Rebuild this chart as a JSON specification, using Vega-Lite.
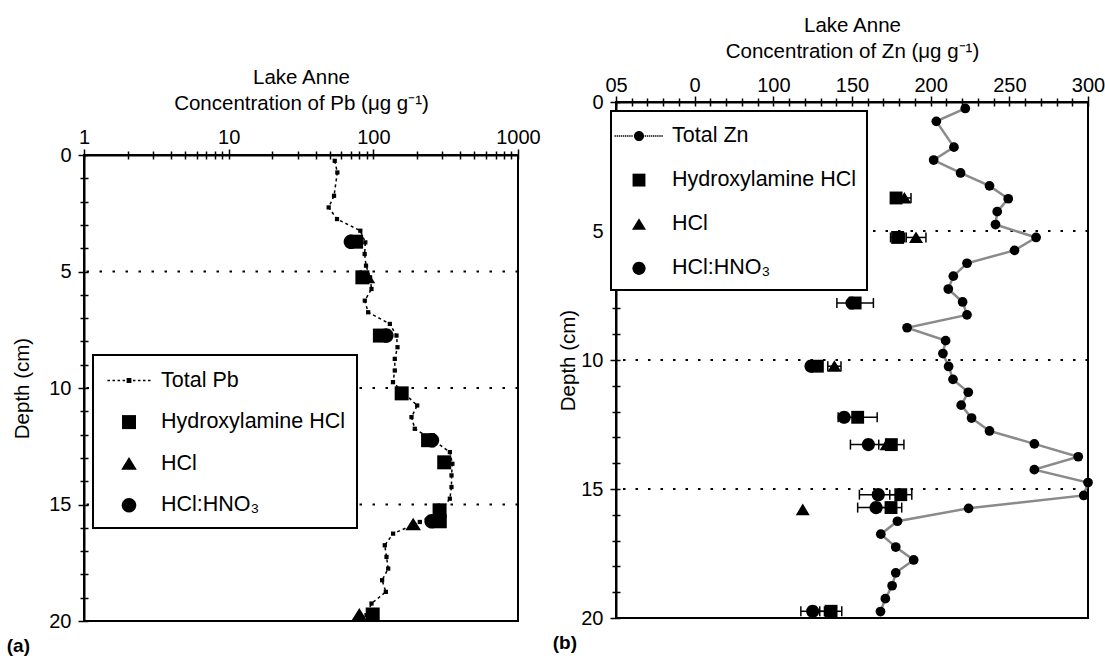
{
  "$schema": "https://vega.github.io/schema/vega-lite/v6.json",
  "padding": {"left": 5, "top": 5, "right": 5, "bottom": 5},
  "background": "white",
  "config": {
    "view": {"stroke": null},
    "font": "Liberation Sans",
    "axis": {
      "grid": false, "domainColor": "black", "domainWidth": 2, "tickColor": "black", "tickWidth": 1.5, "tickSize": 6,
      "labelColor": "black", "labelFont": "Liberation Sans", "labelFontSize": 20, "labelOverlap": false, "labelFlush": false,
      "titleColor": "black", "titleFont": "Liberation Sans", "titleFontSize": 20.5, "titleFontWeight": "normal", "titleLineHeight": 25.5
    },
    "legend": {
      "title": null, "fillColor": "white", "strokeColor": "black", "strokeWidth": 2,
      "labelFont": "Liberation Sans", "labelFontSize": 21.5, "labelColor": "black", "labelLimit": 400,
      "symbolFillColor": "black", "symbolStrokeWidth": 0, "symbolOpacity": 1, "symbolSize": 784
    },
    "title": {"font": "Liberation Sans", "color": "black"}
  },
  "datasets": {
    "refs": [{"d": 5}, {"d": 10}, {"d": 15}],
    "pbTotal": [
      {"d": 0.25, "v": 54.1}, {"d": 0.75, "v": 56.4}, {"d": 1.75, "v": 53.5}, {"d": 2.25, "v": 49.1}, {"d": 2.75, "v": 56.1},
      {"d": 3.25, "v": 81.3}, {"d": 3.75, "v": 88}, {"d": 4.25, "v": 87.1}, {"d": 4.75, "v": 89}, {"d": 5.25, "v": 95},
      {"d": 5.75, "v": 97.1}, {"d": 6.25, "v": 87.3}, {"d": 6.75, "v": 92.1}, {"d": 7.25, "v": 130}, {"d": 7.75, "v": 144.6},
      {"d": 8.25, "v": 146.9}, {"d": 8.75, "v": 140.7}, {"d": 9.25, "v": 140.7}, {"d": 9.75, "v": 136.7}, {"d": 10.25, "v": 165},
      {"d": 10.75, "v": 201}, {"d": 11.25, "v": 183.6}, {"d": 11.75, "v": 193.4}, {"d": 12.25, "v": 260}, {"d": 12.75, "v": 338},
      {"d": 13.25, "v": 352}, {"d": 13.75, "v": 347}, {"d": 14.25, "v": 347}, {"d": 14.75, "v": 338}, {"d": 15.25, "v": 296},
      {"d": 15.75, "v": 209.5}, {"d": 16.25, "v": 137}, {"d": 16.75, "v": 120}, {"d": 17.25, "v": 123.3}, {"d": 17.75, "v": 126.7},
      {"d": 18.25, "v": 115}, {"d": 18.75, "v": 122}, {"d": 19.25, "v": 97.1}, {"d": 19.75, "v": 89.7}
    ],
    "pbExt": [
      {"d": 3.72, "v": 76, "series": "Hydroxylamine HCl"}, {"d": 5.25, "v": 84, "series": "Hydroxylamine HCl"},
      {"d": 7.75, "v": 111, "series": "Hydroxylamine HCl"}, {"d": 10.23, "v": 157, "series": "Hydroxylamine HCl"},
      {"d": 12.24, "v": 239, "series": "Hydroxylamine HCl"}, {"d": 13.19, "v": 309, "series": "Hydroxylamine HCl"},
      {"d": 15.25, "v": 287, "series": "Hydroxylamine HCl"}, {"d": 15.72, "v": 288, "series": "Hydroxylamine HCl"},
      {"d": 19.72, "v": 99, "series": "Hydroxylamine HCl"},
      {"d": 5.25, "v": 91, "series": "HCl"}, {"d": 15.85, "v": 188.5, "series": "HCl"}, {"d": 19.72, "v": 80, "series": "HCl"},
      {"d": 3.72, "v": 70, "series": "HCl:HNO₃"}, {"d": 7.75, "v": 123, "series": "HCl:HNO₃"},
      {"d": 12.24, "v": 254, "series": "HCl:HNO₃"}, {"d": 15.72, "v": 253, "series": "HCl:HNO₃"}
    ],
    "znTotal": [
      {"d": 0.25, "v": 222}, {"d": 0.75, "v": 203.6}, {"d": 1.75, "v": 214.8}, {"d": 2.25, "v": 201.9}, {"d": 2.75, "v": 219},
      {"d": 3.25, "v": 237.4}, {"d": 3.75, "v": 249.3}, {"d": 4.25, "v": 242.3}, {"d": 4.75, "v": 241.2}, {"d": 5.25, "v": 267},
      {"d": 5.75, "v": 253.3}, {"d": 6.25, "v": 223.1}, {"d": 6.75, "v": 214.4}, {"d": 7.25, "v": 211.2}, {"d": 7.75, "v": 220.3},
      {"d": 8.25, "v": 223.1}, {"d": 8.75, "v": 185}, {"d": 9.25, "v": 209.5}, {"d": 9.75, "v": 207.8}, {"d": 10.25, "v": 211.4},
      {"d": 10.75, "v": 214.2}, {"d": 11.25, "v": 223.9}, {"d": 11.75, "v": 219.4}, {"d": 12.25, "v": 226}, {"d": 12.75, "v": 237.4},
      {"d": 13.25, "v": 265.9}, {"d": 13.75, "v": 293.8}, {"d": 14.25, "v": 265.9}, {"d": 14.75, "v": 300}, {"d": 15.25, "v": 297.3},
      {"d": 15.75, "v": 224.1}, {"d": 16.25, "v": 178.9}, {"d": 16.75, "v": 168.3}, {"d": 17.25, "v": 177.8}, {"d": 17.75, "v": 189.2},
      {"d": 18.25, "v": 177.8}, {"d": 18.75, "v": 175.5}, {"d": 19.25, "v": 171.2}, {"d": 19.75, "v": 168.1}
    ],
    "znExt": [
      {"d": 3.72, "v": 178, "series": "Hydroxylamine HCl"},
      {"d": 5.25, "v": 179, "lo": 174.5, "hi": 183.5, "series": "Hydroxylamine HCl"},
      {"d": 7.79, "v": 152, "lo": 140.4, "hi": 163.6, "series": "Hydroxylamine HCl"},
      {"d": 10.24, "v": 128, "series": "Hydroxylamine HCl"},
      {"d": 12.22, "v": 153.6, "lo": 141.2, "hi": 166, "series": "Hydroxylamine HCl"},
      {"d": 13.28, "v": 175, "lo": 167, "hi": 183, "series": "Hydroxylamine HCl"},
      {"d": 15.22, "v": 181, "lo": 174, "hi": 188, "series": "Hydroxylamine HCl"},
      {"d": 15.72, "v": 174.8, "lo": 168, "hi": 181.6, "series": "Hydroxylamine HCl"},
      {"d": 19.74, "v": 136.7, "lo": 129.5, "hi": 143.5, "series": "Hydroxylamine HCl"},
      {"d": 3.72, "v": 183.3, "lo": 179, "hi": 187.5, "series": "HCl"},
      {"d": 5.25, "v": 190.7, "lo": 184.5, "hi": 197, "series": "HCl"},
      {"d": 10.24, "v": 138.8, "lo": 134.6, "hi": 143, "series": "HCl"},
      {"d": 13.28, "v": 172, "series": "HCl"},
      {"d": 15.8, "v": 118.7, "series": "HCl"},
      {"d": 7.79, "v": 150, "series": "HCl:HNO₃"},
      {"d": 10.24, "v": 124, "series": "HCl:HNO₃"},
      {"d": 12.22, "v": 145, "series": "HCl:HNO₃"},
      {"d": 13.28, "v": 160.4, "lo": 149, "hi": 171.8, "series": "HCl:HNO₃"},
      {"d": 15.22, "v": 166.7, "lo": 154.7, "hi": 178.7, "series": "HCl:HNO₃"},
      {"d": 15.72, "v": 165.3, "lo": 153.6, "hi": 177, "series": "HCl:HNO₃"},
      {"d": 19.74, "v": 125, "lo": 117.5, "hi": 132.5, "series": "HCl:HNO₃"}
    ]
  },
  "spacing": 9,
  "resolve": {"scale": {"x": "independent", "y": "independent", "shape": "independent"}, "legend": {"shape": "independent"}},
  "hconcat": [
    {
      "spacing": 0,
      "resolve": {"scale": {"shape": "independent"}, "legend": {"shape": "independent"}},
      "vconcat": [
        {"width": 434, "height": 61, "data": {"values": [{"k": 1}]}, "mark": {"type": "point", "opacity": 0}},
        {
          "width": 434, "height": 466,
          "view": {"stroke": "black", "strokeWidth": 2},
          "title": {"text": "(a)", "orient": "bottom", "anchor": "start", "frame": "bounds", "fontSize": 19, "fontWeight": "bold", "offset": 6, "dx": -6},
          "resolve": {"axis": {"x": "independent", "y": "independent"}},
          "layer": [
            {
              "data": {"name": "refs"},
              "mark": {"type": "rule", "strokeDash": [2.5, 10.5], "strokeWidth": 2, "color": "black"},
              "encoding": {
                "y": {"field": "d", "type": "quantitative", "scale": {"domain": [0, 20], "reverse": true, "nice": false, "zero": false},
                  "axis": {"orient": "left", "values": [0, 5, 10, 15, 20], "labelPadding": 7, "title": "Depth (cm)", "titlePadding": 16}}
              }
            },
            {
              "data": {"name": "pbTotal"},
              "mark": {"type": "line", "strokeDash": [3, 3], "strokeWidth": 1.5, "color": "black"},
              "encoding": {
                "x": {"field": "v", "type": "quantitative", "scale": {"type": "log", "domain": [1, 1000], "nice": false},
                  "axis": {"orient": "top", "values": [1, 10, 100, 1000], "format": "d", "labelPadding": 2,
                    "title": ["Lake Anne", "Concentration of Pb (μg g⁻¹)"], "titlePadding": 14}},
                "y": {"field": "d", "type": "quantitative", "scale": {"domain": [0, 20], "reverse": true, "nice": false, "zero": false},
                  "axis": {"orient": "left", "values": [0,1,2,3,4,5,6,7,8,9,10,11,12,13,14,15,16,17,18,19,20], "tickSize": -4, "labels": false, "domain": false, "title": null}},
                "order": {"field": "d", "type": "quantitative"}
              }
            },
            {
              "data": {"name": "pbTotal"},
              "mark": {"type": "point", "shape": "square", "filled": true, "size": 18, "color": "black", "opacity": 1},
              "encoding": {
                "x": {"field": "v", "type": "quantitative", "scale": {"type": "log", "domain": [1, 1000], "nice": false},
                  "axis": {"orient": "top", "values": [1,2,3,4,5,6,7,8,9,10,20,30,40,50,60,70,80,90,100,200,300,400,500,600,700,800,900,1000], "tickSize": -4, "labels": false, "domain": false, "title": null}},
                "y": {"field": "d", "type": "quantitative", "scale": {"domain": [0, 20], "reverse": true, "nice": false, "zero": false},
                  "axis": {"orient": "left", "values": [1,2,3,4,6,7,8,9,11,12,13,14,16,17,18,19], "tickSize": 4, "labels": false, "domain": false, "title": null}}
              }
            },
            {
              "data": {"name": "pbExt"},
              "mark": {"type": "point", "filled": true, "size": 784, "color": "black", "opacity": 1, "strokeWidth": 0},
              "encoding": {
                "x": {"field": "v", "type": "quantitative", "scale": {"type": "log", "domain": [1, 1000], "nice": false},
                  "axis": {"orient": "top", "values": [2,3,4,5,6,7,8,9,20,30,40,50,60,70,80,90,200,300,400,500,600,700,800,900], "tickSize": 4, "labels": false, "domain": false, "title": null}},
                "y": {"field": "d", "type": "quantitative", "scale": {"domain": [0, 20], "reverse": true, "nice": false, "zero": false}, "axis": null},
                "shape": {"field": "series", "type": "nominal",
                  "scale": {"domain": ["Total Pb", "Hydroxylamine HCl", "HCl", "HCl:HNO₃"],
                    "range": [
                      "M-1.54,-0.05h0.18v0.1h-0.18Z M-1.18,-0.05h0.18v0.1h-0.18Z M-0.82,-0.05h0.18v0.1h-0.18Z M-0.46,-0.05h0.18v0.1h-0.18Z M0.28,-0.05h0.18v0.1h-0.18Z M0.64,-0.05h0.18v0.1h-0.18Z M1,-0.05h0.18v0.1h-0.18Z M1.36,-0.05h0.18v0.1h-0.18Z M-0.17,-0.17h0.34v0.34h-0.34Z",
                      "M-0.5,-0.5H0.5V0.5H-0.5Z",
                      "M0,-0.47L0.56,0.43L-0.56,0.43Z",
                      "M0.52,0A0.52,0.52,0,1,1,-0.52,0A0.52,0.52,0,1,1,0.52,0Z"
                    ]},
                  "legend": {"orient": "none", "legendX": 9, "legendY": 200, "padding": 11.5, "symbolOffset": 10.5, "labelOffset": 18, "rowPadding": 16.6}}
              }
            }
          ]
        }
      ]
    },
    {
      "spacing": 0,
      "resolve": {"scale": {"shape": "independent"}, "legend": {"shape": "independent"}},
      "vconcat": [
        {"width": 472, "height": 9, "data": {"values": [{"k": 1}]}, "mark": {"type": "point", "opacity": 0}},
        {
          "width": 472, "height": 516,
          "view": {"stroke": "black", "strokeWidth": 2},
          "title": {"text": "(b)", "orient": "bottom", "anchor": "start", "frame": "bounds", "fontSize": 19, "fontWeight": "bold", "offset": 6, "dx": -6},
          "resolve": {"axis": {"x": "independent", "y": "independent"}},
          "layer": [
            {
              "data": {"name": "refs"},
              "mark": {"type": "rule", "strokeDash": [2.5, 10], "strokeWidth": 2, "color": "black"},
              "encoding": {
                "y": {"field": "d", "type": "quantitative", "scale": {"domain": [0, 20], "reverse": true, "nice": false, "zero": false},
                  "axis": {"orient": "left", "values": [0, 5, 10, 15, 20], "labelPadding": 7, "title": "Depth (cm)", "titlePadding": 2}}
              }
            },
            {
              "data": {"name": "znTotal"},
              "mark": {"type": "line", "strokeWidth": 2.5, "color": "#8a8a8a"},
              "encoding": {
                "x": {"field": "v", "type": "quantitative", "scale": {"domain": [0, 300], "nice": false, "zero": false},
                  "axis": {"orient": "top", "values": [0, 50, 100, 150, 200, 250, 300],
                    "labelExpr": "datum.value == 0 ? '05' : datum.value == 50 ? '0' : datum.label",
                    "labelPadding": 1, "title": ["Lake Anne", "Concentration of Zn (μg g⁻¹)"], "titlePadding": 14}},
                "y": {"field": "d", "type": "quantitative", "scale": {"domain": [0, 20], "reverse": true, "nice": false, "zero": false},
                  "axis": {"orient": "left", "values": [0,1,2,3,4,5,6,7,8,9,10,11,12,13,14,15,16,17,18,19,20], "tickSize": -4, "labels": false, "domain": false, "title": null}},
                "order": {"field": "d", "type": "quantitative"}
              }
            },
            {
              "data": {"name": "znTotal"},
              "mark": {"type": "point", "shape": "circle", "filled": true, "size": 95, "color": "black", "opacity": 1},
              "encoding": {
                "x": {"field": "v", "type": "quantitative", "scale": {"domain": [0, 300], "nice": false, "zero": false},
                  "axis": {"orient": "top", "values": [0,10,20,30,40,50,60,70,80,90,100,110,120,130,140,150,160,170,180,190,200,210,220,230,240,250,260,270,280,290,300], "tickSize": -4, "labels": false, "domain": false, "title": null}},
                "y": {"field": "d", "type": "quantitative", "scale": {"domain": [0, 20], "reverse": true, "nice": false, "zero": false},
                  "axis": {"orient": "left", "values": [1,2,3,4,6,7,8,9,11,12,13,14,16,17,18,19], "tickSize": 4, "labels": false, "domain": false, "title": null}}
              }
            },
            {
              "data": {"name": "znExt"},
              "transform": [{"filter": "isValid(datum.lo)"}],
              "mark": {"type": "rule", "strokeWidth": 1.5, "color": "black"},
              "encoding": {
                "x": {"field": "lo", "type": "quantitative", "scale": {"domain": [0, 300], "nice": false, "zero": false}, "axis": null},
                "x2": {"field": "hi"},
                "y": {"field": "d", "type": "quantitative", "scale": {"domain": [0, 20], "reverse": true, "nice": false, "zero": false}, "axis": null}
              }
            },
            {
              "data": {"name": "znExt"},
              "transform": [{"filter": "isValid(datum.lo)"}],
              "mark": {"type": "tick", "orient": "vertical", "size": 10, "thickness": 1.5, "color": "black", "opacity": 1},
              "encoding": {
                "x": {"field": "lo", "type": "quantitative", "scale": {"domain": [0, 300], "nice": false, "zero": false}, "axis": null},
                "y": {"field": "d", "type": "quantitative", "scale": {"domain": [0, 20], "reverse": true, "nice": false, "zero": false}, "axis": null}
              }
            },
            {
              "data": {"name": "znExt"},
              "transform": [{"filter": "isValid(datum.hi)"}],
              "mark": {"type": "tick", "orient": "vertical", "size": 10, "thickness": 1.5, "color": "black", "opacity": 1},
              "encoding": {
                "x": {"field": "hi", "type": "quantitative", "scale": {"domain": [0, 300], "nice": false, "zero": false}, "axis": null},
                "y": {"field": "d", "type": "quantitative", "scale": {"domain": [0, 20], "reverse": true, "nice": false, "zero": false}, "axis": null}
              }
            },
            {
              "data": {"name": "znExt"},
              "mark": {"type": "point", "filled": true, "size": 784, "color": "black", "opacity": 1, "strokeWidth": 0},
              "encoding": {
                "x": {"field": "v", "type": "quantitative", "scale": {"domain": [0, 300], "nice": false, "zero": false},
                  "axis": {"orient": "top", "values": [10,20,30,40,60,70,80,90,110,120,130,140,160,170,180,190,210,220,230,240,260,270,280,290], "tickSize": 4, "labels": false, "domain": false, "title": null}},
                "y": {"field": "d", "type": "quantitative", "scale": {"domain": [0, 20], "reverse": true, "nice": false, "zero": false}, "axis": null},
                "shape": {"field": "series", "type": "nominal",
                  "scale": {"domain": ["Total Zn", "Hydroxylamine HCl", "HCl", "HCl:HNO₃"],
                    "range": [
                      "M-1.75,-0.045h0.1v0.09h-0.1Z M-1.6,-0.045h0.1v0.09h-0.1Z M-1.45,-0.045h0.1v0.09h-0.1Z M-1.3,-0.045h0.1v0.09h-0.1Z M-1.15,-0.045h0.1v0.09h-0.1Z M-1,-0.045h0.1v0.09h-0.1Z M-0.85,-0.045h0.1v0.09h-0.1Z M-0.7,-0.045h0.1v0.09h-0.1Z M-0.55,-0.045h0.1v0.09h-0.1Z M0.4,-0.045h0.1v0.09h-0.1Z M0.55,-0.045h0.1v0.09h-0.1Z M0.7,-0.045h0.1v0.09h-0.1Z M0.85,-0.045h0.1v0.09h-0.1Z M1,-0.045h0.1v0.09h-0.1Z M1.15,-0.045h0.1v0.09h-0.1Z M1.3,-0.045h0.1v0.09h-0.1Z M1.45,-0.045h0.1v0.09h-0.1Z M1.6,-0.045h0.1v0.09h-0.1Z M0.36,0A0.36,0.36,0,1,1,-0.36,0A0.36,0.36,0,1,1,0.36,0Z",
                      "M-0.46,-0.46H0.46V0.46H-0.46Z",
                      "M0,-0.43L0.5,0.4L-0.5,0.4Z",
                      "M0.47,0A0.47,0.47,0,1,1,-0.47,0A0.47,0.47,0,1,1,0.47,0Z"
                    ]},
                  "legend": {"orient": "none", "legendX": -5, "legendY": 9, "padding": 11, "symbolOffset": 3, "labelOffset": 19, "rowPadding": 19.1}}
              }
            }
          ]
        }
      ]
    }
  ]
}
